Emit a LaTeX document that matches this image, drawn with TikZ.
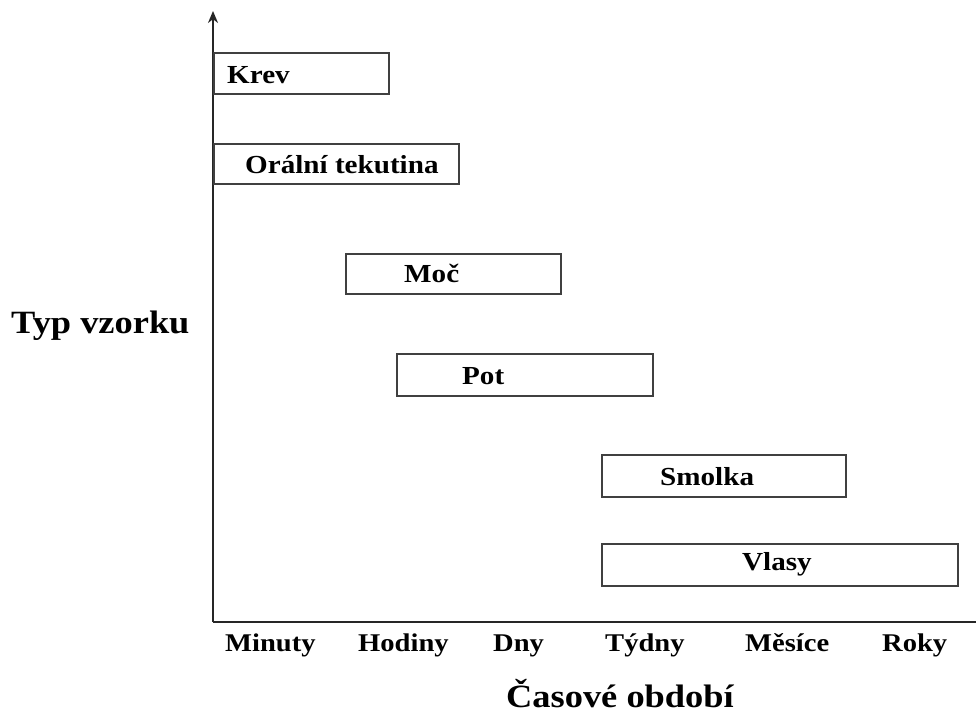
\documentclass[tikz,border=0pt]{standalone}
\usepackage{fontspec}
\setmainfont{Liberation Serif}[FakeStretch=1.12]
\usetikzlibrary{arrows.meta}
\tikzset{
  axis/.style={draw=black!85, line width=2.6pt},
  databox/.style={draw=black!75, line width=2.2pt, fill=white, rectangle, inner sep=0pt, anchor=north west},
  boxlabel/.style={anchor=base west, inner sep=0pt, font=\bfseries\fontsize{26}{30}\selectfont},
  ticklabel/.style={anchor=base west, inner sep=0pt, font=\bfseries\fontsize{25.5}{30}\selectfont},
  axistitle/.style={anchor=base west, inner sep=0pt, font=\bfseries\fontsize{32.5}{38}\selectfont}
}
\begin{document}
\begin{tikzpicture}[x=1pt,y=-1pt]
\useasboundingbox (0,0) rectangle (976,715);
% axes
\coordinate (o) at (213,622);
\coordinate (ytop) at (213,11);
\coordinate (xend) at (976,622);
\draw[axis,-{Stealth[length=12pt,width=10pt]}] (o) -- (ytop);
\draw[axis] (o) -- (xend);
% boxes
\node[databox, minimum width=175pt, minimum height=41pt] (krevbox) at (213,52) {};
\node[databox, minimum width=245pt, minimum height=40pt] (oralbox) at (213,143) {};
\node[databox, minimum width=215pt, minimum height=40pt] (mocbox) at (345,253) {};
\node[databox, minimum width=256pt, minimum height=42pt] (potbox) at (396,353) {};
\node[databox, minimum width=244pt, minimum height=42pt] (smolkabox) at (601,454) {};
\node[databox, minimum width=356pt, minimum height=42pt] (vlasybox) at (601,543) {};
% box labels
\node[boxlabel] (krev) at (227,83) {Krev};
\node[boxlabel] (oral) at (245,173) {Orální tekutina};
\node[boxlabel] (moc) at (404,282) {Moč};
\node[boxlabel] (pot) at (462,384) {Pot};
\node[boxlabel] (smolka) at (660,485) {Smolka};
\node[boxlabel] (vlasy) at (742,570) {Vlasy};
% tick labels
\node[ticklabel] (minuty) at (225,651) {Minuty};
\node[ticklabel] (hodiny) at (358,651) {Hodiny};
\node[ticklabel] (dny) at (493,651) {Dny};
\node[ticklabel] (tydny) at (605,651) {Týdny};
\node[ticklabel] (mesice) at (745,651) {Měsíce};
\node[ticklabel] (roky) at (882,651) {Roky};
% titles
\node[axistitle] (ytitle) at (11,333) {Typ vzorku};
\node[axistitle] (xtitle) at (506,707) {Časové období};
\end{tikzpicture}
\end{document}
